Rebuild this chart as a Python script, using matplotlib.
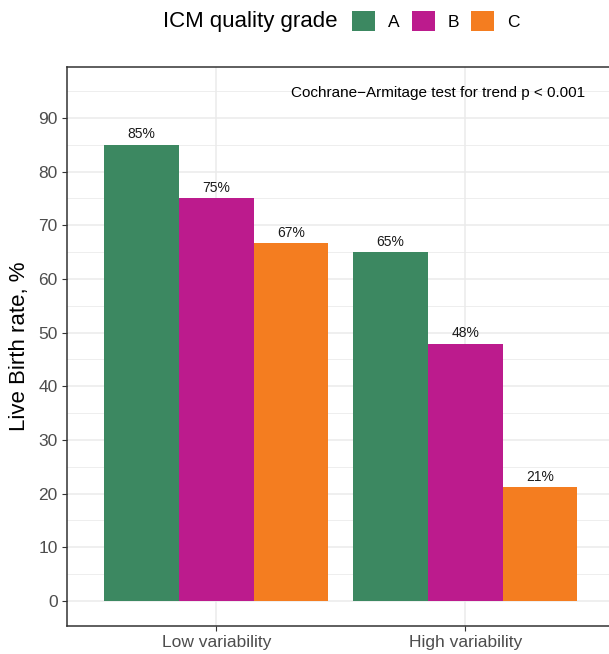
import matplotlib
matplotlib.use("Agg")
import matplotlib.pyplot as plt
from matplotlib.patches import Patch
from matplotlib.ticker import MultipleLocator
import numpy as np

plt.rcParams['font.family'] = ['Liberation Sans', 'DejaVu Sans']

groups = ["Low variability", "High variability"]
grades = ["A", "B", "C"]
rate_A = [85.0, 65.0]
rate_B = [75.0, 47.9]
rate_C = [66.7, 21.2]
colors = {"A": "#3C8861", "B": "#BC1B8D", "C": "#F47D20"}
annotation = "Cochrane\u2212Armitage test for trend p < 0.001"

W, H = 609, 654
fig = plt.figure(figsize=(W / 100, H / 100), dpi=100)
left, right, top, bottom = 66.8, 614.6, 67.0, 626.0
ax = fig.add_axes([left / W, 1 - bottom / H, (right - left) / W, (bottom - top) / H])

x = np.arange(len(groups))
width = 0.3
series = [rate_A, rate_B, rate_C]
for j, (g, vals) in enumerate(zip(grades, series)):
    pos = x + (j - 1) * width
    ax.bar(pos, vals, width=width, color=colors[g], zorder=3, linewidth=0)
    for px, v in zip(pos, vals):
        ax.annotate(f"{round(v):.0f}%", (px, v), xytext=(0, 2.5), textcoords="offset points",
                    ha="center", va="bottom", fontsize=10, color="#1a1a1a", zorder=4)

ax.set_xlim(-0.6, 1.6)
ax.set_ylim(-4.66, 99.5)
ax.set_xticks(x)
ax.set_xticklabels(groups)
ax.yaxis.set_major_locator(MultipleLocator(10))
ax.set_yticks(np.arange(0, 91, 10))
ax.set_yticks(np.arange(5, 100, 10), minor=True)
ax.grid(True, which="major", color="#EBEBEB", linewidth=1.1, zorder=0)
ax.grid(True, which="minor", axis="y", color="#EBEBEB", linewidth=0.6, zorder=0)
ax.set_axisbelow(True)
ax.tick_params(axis="both", which="major", length=3.5, width=0.8, color="#333333",
               labelcolor="#4D4D4D", labelsize=12.5, pad=3)
ax.tick_params(axis="y", which="minor", length=0)
for s in ax.spines.values():
    s.set_color("#333333")
    s.set_linewidth(1.1)
ax.set_ylabel("Live Birth rate, %", fontsize=16, color="black", labelpad=6)

ax.text(0.892, 94.7, annotation, ha="center", va="center", fontsize=11, color="black", zorder=4)

# legend
fig.text(163 / W, 1 - 21 / H, "ICM quality grade", ha="left", va="center", fontsize=16, color="black")
handles = [Patch(facecolor=colors[g], edgecolor="none", label=g) for g in grades]
fig.legend(handles=handles, loc="center left", bbox_to_anchor=(352 / W, 1 - 21 / H), ncol=3,
           frameon=False, fontsize=12.5, handlelength=1.32, handleheight=1.32,
           handletextpad=0.75, columnspacing=0.7, borderpad=0, borderaxespad=0)

fig.savefig("out.png", dpi=100)
